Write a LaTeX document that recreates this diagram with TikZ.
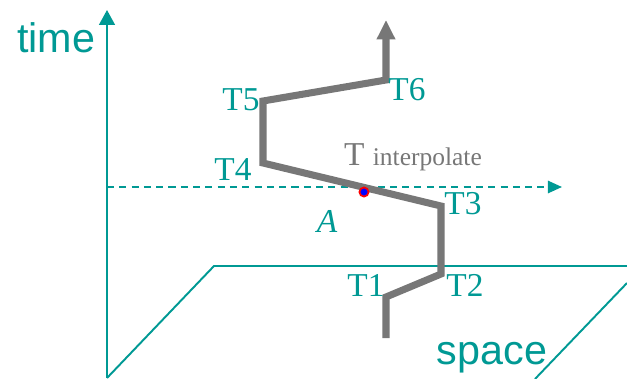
\documentclass[tikz,border=0pt]{standalone}
\usepackage{fontspec}
\setmainfont{Liberation Serif}
\setsansfont{Liberation Sans}
\usetikzlibrary{arrows.meta, positioning, calc}
\definecolor{axTeal}{RGB}{0,153,148}
\definecolor{pathGray}{RGB}{119,119,119}

\begin{document}
\begin{tikzpicture}[
    x=0.02cm, y=-0.02cm,
    axis/.style={draw=axTeal, line width=1.1pt},
    tlab/.style={text=axTeal, font=\fontsize{19}{20}\selectfont, inner sep=0pt},
    big/.style={text=axTeal, font=\sffamily\fontsize{23.5}{25}\selectfont, inner sep=0pt},
    track/.style={draw=pathGray, line width=4pt}
]
\useasboundingbox (0,0) rectangle (627,379);

% axes and ground plane
\coordinate (O) at (107,378);
\draw[axis, -{Triangle[width=9pt, length=8.5pt]}] (O) -- (107,10);
\draw[axis] (O) -- (214,266) -- (627,266);
\draw[axis] (627,283) -- (535,379);
\draw[axis, draw=axTeal!25] (107,379.5) -- (535,379.5);
\node[big] (time) at (56,38) {time};
\node[big] (space) at (492,358) {space};

% level of the interpolated time
\draw[axis, dash pattern=on 4pt off 3pt,
      -{Triangle[width=7pt, length=8pt]}] (107,187) -- (562,187);

% trajectory through time
\coordinate (P0) at (386,338);
\coordinate (P1) at (386,297);
\coordinate (P2) at (441,274);
\coordinate (P3) at (441,206);
\coordinate (P4) at (263,163);
\coordinate (P5) at (263,101);
\coordinate (P6) at (386,80);
\draw[track, -{Triangle[width=10pt, length=11pt]}]
   (P0) -- (P1) -- (P2) -- (P3) -- (P4) -- (P5) -- (P6) -- (386,20);

\node[tlab] (T1) at (366,285) {T1};
\node[tlab] (T2) at (465,285) {T2};
\node[tlab] (T3) at (463,204) {T3};
\node[tlab] (T4) at (233,170) {T4};
\node[tlab] (T5) at (241,100) {T5};
\node[tlab] (T6) at (407,90) {T6};
\node[tlab, font=\itshape\fontsize{19}{20}\selectfont] (A) at (327,221) {A};
\node[inner sep=0pt, text=pathGray, font=\fontsize{19}{20}\selectfont]
   (Tint) at (413,157) {T {\fontsize{14.5}{16}\selectfont interpolate}};

% interpolated point
\fill[blue, draw=red, line width=1pt] (364,192) circle (2.6pt);

\end{tikzpicture}
\end{document}
